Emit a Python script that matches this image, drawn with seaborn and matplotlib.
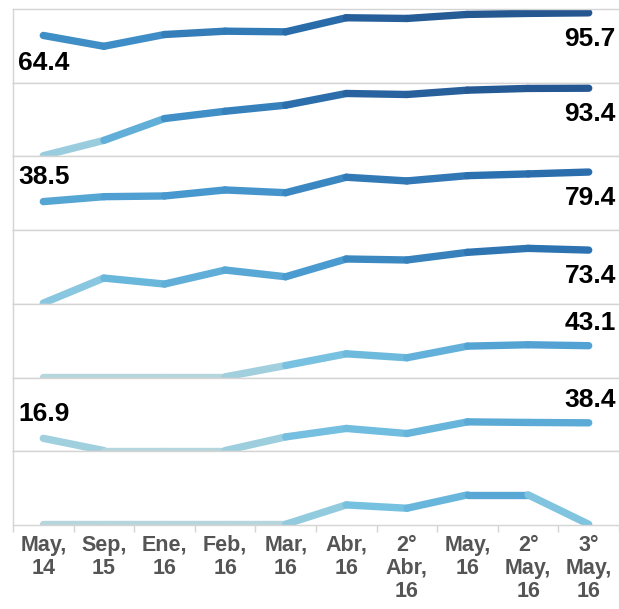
import numpy as np
import pandas as pd
import matplotlib
matplotlib.use("Agg")
import matplotlib.pyplot as plt
import seaborn as sns
from matplotlib.colors import LinearSegmentedColormap, Normalize

# ---------------------------------------------------------------------------
# data: one series per small-multiple row
# ---------------------------------------------------------------------------
months = ["May,\n14", "Sep,\n15", "Ene,\n16", "Feb,\n16", "Mar,\n16",
          "Abr,\n16", "2°\nAbr,\n16", "May,\n16", "2°\nMay,\n16", "3°\nMay,\n16"]

row1 = [64.4, 49.4, 65.7, 70.3, 69.4, 88.9, 87.9, 93.5, 94.9, 95.7]
row2 = [0.0, 21.2, 51.4, 61.5, 69.9, 86.1, 84.7, 90.7, 93.1, 93.4]
row3 = [38.5, 45.3, 46.3, 54.6, 50.8, 72.2, 67.1, 74.4, 76.8, 79.4]
row4 = [0.0, 34.7, 26.4, 45.8, 36.5, 61.1, 59.7, 70.3, 75.8, 73.4]
row5 = [0.0, 0.0, 0.0, 0.0, 15.7, 31.9, 26.4, 42.5, 44.4, 43.1]
row6 = [16.9, 0.0, 0.0, 0.0, 18.9, 30.6, 23.6, 39.7, 38.9, 38.4]
row7 = [0.0, 0.0, 0.0, 0.0, 0.0, 26.8, 22.2, 40.7, 40.7, 0.0]
rows = [row1, row2, row3, row4, row5, row6, row7]

# which rows show a value label at the first / last point
show_first = [True, False, True, False, False, True, False]
show_last = [True, True, True, True, True, True, False]

# label placement: -1 below the point, +1 above it
first_side = [-1, 0, 1, 0, 0, 1, 0]
last_side = [-1, -1, -1, -1, 1, 1, 0]

# ---------------------------------------------------------------------------
# style
# ---------------------------------------------------------------------------
sns.set_theme(style="white")
plt.rcParams["font.family"] = ["Liberation Sans", "DejaVu Sans"]

cmap = LinearSegmentedColormap.from_list(
    "tab_blue",
    [(0.0, "#b5d6dc"), (0.25, "#74c0e0"), (0.5, "#4899cf"),
     (0.75, "#2c72b0"), (1.0, "#234f87")])
norm = Normalize(0, 100)
grid_col = "#d4d4d4"

fig, axes = plt.subplots(7, 1, figsize=(6.19, 6.09), dpi=100, sharex=True)
fig.subplots_adjust(left=13 / 619, right=1.0, top=1 - 9 / 609,
                    bottom=1 - 525 / 609, hspace=0)

for k, (ax, vals) in enumerate(zip(axes, rows)):
    # each segment drawn as its own two-point line so it gets its own colour
    recs = []
    for i in range(len(vals) - 1):
        recs.append((i, vals[i], i))
        recs.append((i + 1, vals[i + 1], i))
    seg = pd.DataFrame(recs, columns=["x", "y", "seg"])
    pal = {i: cmap(norm((vals[i] + vals[i + 1]) / 2)) for i in range(len(vals) - 1)}
    sns.lineplot(data=seg, x="x", y="y", hue="seg", palette=pal, legend=False,
                 ax=ax, lw=5.3, solid_capstyle="round", sort=False)

    ax.set_xlim(-0.5, -0.5 + 606 / 61.2)
    ax.set_ylim(-1, 101)
    ax.set_xlabel("")
    ax.set_ylabel("")
    ax.set_yticks([])
    for s in ["left", "top", "bottom"]:
        ax.spines[s].set_color(grid_col)
        ax.spines[s].set_linewidth(1)
    ax.spines["right"].set_visible(False)

    if show_first[k]:
        ax.annotate(f"{vals[0]:.1f}", xy=(0, vals[0]),
                    xytext=(-18, first_side[k] * 18.5 - 1), textcoords="offset points",
                    ha="left", va="center", fontsize=19, fontweight="bold",
                    color="black")
    if show_last[k]:
        ax.annotate(f"{vals[-1]:.1f}", xy=(9, vals[-1]),
                    xytext=(19.5, last_side[k] * 17.5 - 1), textcoords="offset points",
                    ha="right", va="center", fontsize=19, fontweight="bold",
                    color="black")

    if k < len(rows) - 1:
        ax.tick_params(axis="x", which="both", bottom=False, labelbottom=False)

bottom_ax = axes[-1]
bottom_ax.set_xticks(range(len(months)))
bottom_ax.set_xticklabels(months, fontsize=15.5, fontweight="bold",
                          color="#555555", linespacing=1.12)
bottom_ax.set_xticks(np.arange(-0.5, len(months)), minor=True)
bottom_ax.tick_params(axis="x", which="major", length=0, pad=7)
bottom_ax.tick_params(axis="x", which="minor", length=5, width=1,
                      color=grid_col, bottom=True)

plt.savefig("out.png", dpi=100)
plt.close()
